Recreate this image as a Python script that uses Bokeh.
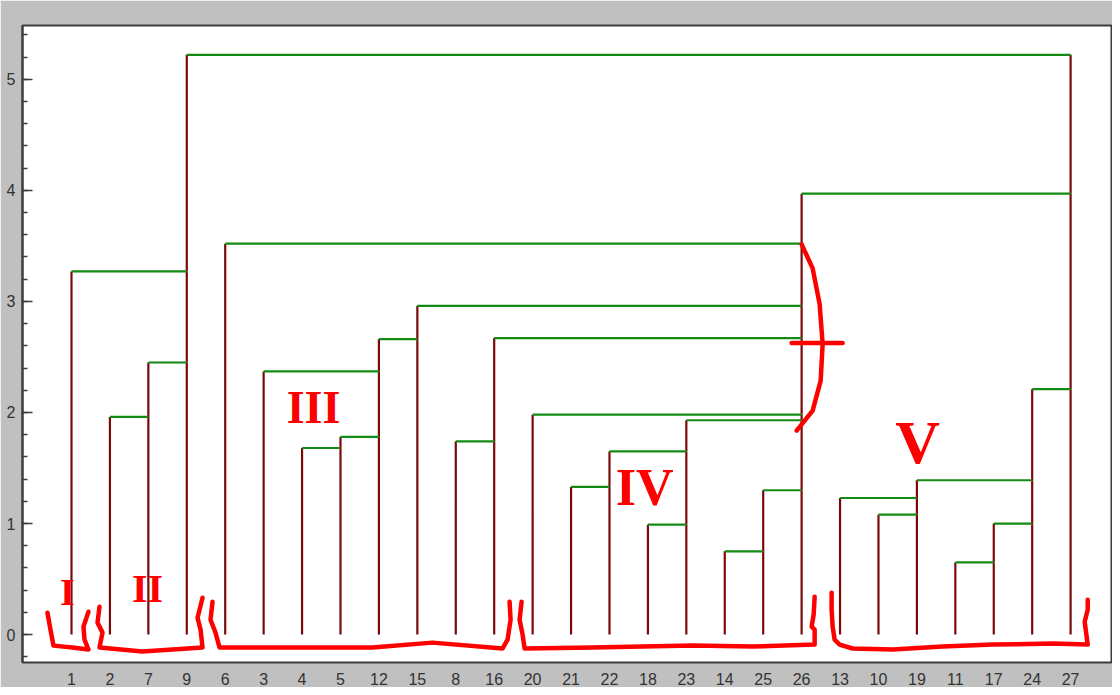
from bokeh.plotting import figure
from bokeh.models import (Range1d, SingleIntervalTicker, FixedTicker, ColumnDataSource)
from bokeh.core.properties import value
from bokeh.embed import file_html
from bokeh.resources import INLINE

# ---- data ----
leaf_labels = ["1", "2", "7", "9", "6", "3", "4", "5", "12", "15", "8", "16", "20", "21",
               "22", "18", "23", "14", "25", "26", "13", "10", "19", "11", "17", "24", "27"]

# merges: representative (right-most) leaf of each joined cluster, and the joining height
merge_left = ["2", "7", "1", "4", "5", "3", "12", "8", "21", "18", "22", "14", "25", "23",
              "20", "16", "15", "6", "10", "13", "11", "17", "19", "24", "26", "9"]
merge_right = ["7", "9", "9", "5", "12", "12", "15", "16", "22", "23", "23", "25", "26", "26",
               "26", "26", "26", "26", "19", "19", "17", "24", "24", "27", "27", "27"]
merge_height = [1.96, 2.45, 3.27, 1.68, 1.78, 2.37, 2.66, 1.74, 1.33, 0.99, 1.65, 0.75, 1.30, 1.93,
                1.98, 2.67, 2.96, 3.52, 1.08, 1.23, 0.65, 1.00, 1.39, 2.21, 3.97, 5.22]

# hand-drawn red annotations (data units)
bracket_I_x = [0.375, 0.453, 0.531, 1.026, 1.442, 1.338, 1.312, 1.442]
bracket_I_y = [0.197, 0.045, -0.099, -0.116, -0.134, -0.045, 0.072, 0.206]
bracket_II_x = [1.729, 1.677, 1.807, 1.729, 2.848, 4.410, 4.358, 4.280, 4.410]
bracket_II_y = [0.251, 0.108, 0.018, -0.116, -0.152, -0.116, 0.045, 0.152, 0.332]
bracket_III_x = [4.670, 4.618, 4.748, 4.852, 6.752, 8.835, 10.396, 12.218, 12.348, 12.426, 12.400]
bracket_III_y = [0.296, 0.134, 0.018, -0.116, -0.116, -0.116, -0.072, -0.125, -0.045, 0.134, 0.296]
bracket_IV_x = [12.713, 12.661, 12.739, 12.791, 14.561, 17.164, 18.726, 20.339, 20.339, 20.261, 20.313, 20.339]
bracket_IV_y = [0.296, 0.134, 0.0, -0.125, -0.116, -0.099, -0.108, -0.090, 0.045, 0.072, 0.179, 0.341]
bracket_V_x = [20.781, 20.781, 20.807, 20.859, 20.989, 21.328, 22.369, 23.670, 24.972, 26.534, 27.445, 27.393, 27.366, 27.445, 27.445]
bracket_V_y = [0.376, 0.224, 0.072, -0.045, -0.090, -0.125, -0.134, -0.108, -0.090, -0.081, -0.090, 0.045, 0.116, 0.224, 0.314]
brace_x = [20.001, 20.287, 20.469, 20.547, 20.495, 20.287, 19.871]
brace_y = [3.513, 3.297, 2.975, 2.616, 2.285, 2.016, 1.837]
cross_x = [19.740, 21.068]
cross_y = [2.625, 2.625]

numeral_text = ["I", "II", "III", "IV", "V"]
numeral_x = [0.896, 2.978, 7.299, 15.914, 23.020]
numeral_y = [0.385, 0.412, 2.043, 1.326, 1.738]
numeral_size = ["38px", "40px", "46px", "52px", "62px"]

# ---- build dendrogram segments ----
pos = {lab: i + 1 for i, lab in enumerate(leaf_labels)}
top = {lab: 0.0 for lab in leaf_labels}
vx0, vy0, vy1 = [], [], []
hx0, hx1, hy = [], [], []
for a, b, h in zip(merge_left, merge_right, merge_height):
    for r in (a, b):
        vx0.append(pos[r]); vy0.append(top[r]); vy1.append(h)
        top[r] = h
    hx0.append(pos[a]); hx1.append(pos[b]); hy.append(h)

vsrc = ColumnDataSource(dict(x0=vx0, y0=vy0, x1=vx0, y1=vy1))
hsrc = ColumnDataSource(dict(x0=hx0, y0=hy, x1=hx1, y1=hy))

p = figure(width=1112, height=687, output_backend="svg", toolbar_location=None,
           x_range=Range1d(-0.275, 28.09), y_range=Range1d(-0.251, 5.484),
           min_border_left=22, min_border_right=0, min_border_top=25, min_border_bottom=22)
p.border_fill_color = "#c0c0c0"
p.background_fill_color = "white"
p.outline_line_color = "#3c3c3c"
p.outline_line_width = 2
p.xgrid.visible = False
p.ygrid.visible = False

# y axis
ya = p.yaxis[0]
ya.ticker = SingleIntervalTicker(interval=1, num_minor_ticks=5)
ya.major_tick_in = 10
ya.major_tick_out = 0
ya.minor_tick_in = 5
ya.minor_tick_out = 0
ya.major_tick_line_color = "#3c3c3c"
ya.minor_tick_line_color = "#3c3c3c"
ya.major_tick_line_width = 1.5
ya.minor_tick_line_width = 1.5
ya.axis_line_color = "#3c3c3c"
ya.axis_line_width = 2
ya.major_label_standoff = 7
ya.major_label_text_font = "Liberation Sans"
ya.major_label_text_font_size = "16px"
ya.major_label_text_color = "#333333"

# x axis
xa = p.xaxis[0]
xa.ticker = FixedTicker(ticks=list(range(1, len(leaf_labels) + 1)))
xa.major_label_overrides = {i + 1: lab for i, lab in enumerate(leaf_labels)}
xa.axis_line_color = None
xa.major_tick_line_color = None
xa.minor_tick_line_color = None
xa.major_label_standoff = 4
xa.major_label_text_font = "Liberation Sans"
xa.major_label_text_font_size = "16px"
xa.major_label_text_color = "#333333"

p.segment(x0="x0", y0="y0", x1="x1", y1="y1", source=vsrc, line_color="#7a0a0a", line_width=2.2)
p.segment(x0="x0", y0="y0", x1="x1", y1="y1", source=hsrc, line_color="#138a13", line_width=2.2)

red = "#ff0000"
p.multi_line(xs=[bracket_I_x, bracket_II_x, bracket_III_x, bracket_IV_x, bracket_V_x, brace_x, cross_x],
             ys=[bracket_I_y, bracket_II_y, bracket_III_y, bracket_IV_y, bracket_V_y, brace_y, cross_y],
             line_color=red, line_width=4.5, line_cap="round", line_join="round")

for t, x, y, s in zip(numeral_text, numeral_x, numeral_y, numeral_size):
    p.text(x=[x], y=[y], text=[t], text_color=red, text_font=value("Liberation Serif"),
           text_font_style="bold", text_font_size=s, text_align="center", text_baseline="middle")

open("out.html", "w").write(file_html(p, INLINE))
